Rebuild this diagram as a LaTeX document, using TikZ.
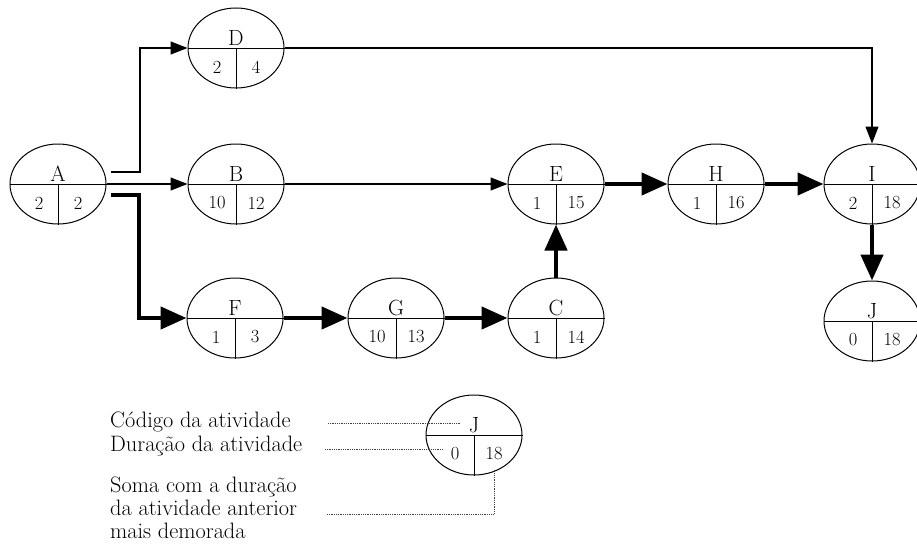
\documentclass[tikz,border=0pt]{standalone}
\usepackage{fontspec}
\usetikzlibrary{arrows.meta,calc,shapes.geometric}
\newcommand\actnode[6]{%
  \node[actbox] (#1) at (#2,#3) {};
  \draw[divline] (#1.west) -- (#1.east) (#1.center) -- (#1.south);
  \node[lettr] (#1-t) at ([yshift=3pt]#1.center) {#4};
  \node[digit] (#1-a) at ([xshift=-19pt,yshift=-19pt]#1.center) {#5};
  \node[digit] (#1-b) at ([xshift=20pt,yshift=-19pt]#1.center) {#6};
}
\begin{document}
\begin{tikzpicture}[x=1pt,y=-1pt,
  actbox/.style={draw, ellipse, minimum width=96pt, minimum height=80pt, inner sep=0pt, line width=1pt},
  divline/.style={line width=1pt},
  lettr/.style={font=\fontsize{22}{26}\selectfont, inner sep=0pt, anchor=base},
  digit/.style={font=\fontsize{18.5}{22}\selectfont, inner sep=0pt},
  thinarrow/.style={line width=1.2pt, -{Triangle[length=17pt,width=13pt]}},
  thickarrow/.style={line width=4.5pt, -{Triangle[length=26pt,width=22pt]}},
  leader/.style={line width=0.8pt, densely dotted, black!75},
  legtext/.style={font=\fontsize{22.3}{26}\selectfont, inner sep=0pt, anchor=base west}]
\useasboundingbox (0,0) rectangle (917,554);

\actnode{A}{58}{184}{A}{2}{2}
\actnode{D}{236}{48}{D}{2}{4}
\actnode{B}{236}{184}{B}{10}{12}
\actnode{F}{235}{318}{F}{1}{3}
\actnode{G}{396}{318}{G}{10}{13}
\actnode{C}{556}{318}{C}{1}{14}
\actnode{E}{556}{184}{E}{1}{15}
\actnode{H}{716}{184}{H}{1}{16}
\actnode{I}{872}{184}{I}{2}{18}
\actnode{J}{872}{321}{J}{0}{18}
\actnode{L}{474}{435}{J}{0}{18}

% connectors from A
\coordinate (aD) at (111,172);
\coordinate (aDk) at (140,172);
\coordinate (aF) at (111,195);
\coordinate (aFk) at (139,195);
\draw[thinarrow] (aD) -- (aDk) |- (D.west);
\draw[thinarrow] (A.east) -- (B.west);
\draw[thickarrow, line join=miter] (aF) -- (aFk) |- (F.west);

\draw[thinarrow] (B.east) -- (E.west);
\draw[thinarrow] (D.east) -| (I.north);
\draw[thickarrow] (F.east) -- (G.west);
\draw[thickarrow] (G.east) -- (C.west);
\draw[thickarrow] (C.north) -- (E.south);
\draw[thickarrow] (E.east) -- (H.west);
\draw[thickarrow] (H.east) -- (I.west);
\draw[thickarrow] (I.south) -- (J.north);

% legend
\node[legtext] (cod) at (110,427) {Código da atividade};
\node[legtext] (dur) at (110,451) {Duração da atividade};
\node[legtext] (som1) at (110,492) {Soma com a duração};
\node[legtext] (som2) at (110,515) {da atividade anterior};
\node[legtext] (som3) at (110,538) {mais demorada};

\coordinate (c1) at (328,423);
\coordinate (c1e) at (461,423);
\coordinate (c2) at (325,449);
\coordinate (c2e) at (443,449);
\coordinate (c3) at (327,514);
\coordinate (c3e) at (494,470);
\draw[leader] (c1) -- (c1e);
\draw[leader] (c2) -- (c2e);
\draw[leader] (c3) -| (c3e);
\end{tikzpicture}
\end{document}
